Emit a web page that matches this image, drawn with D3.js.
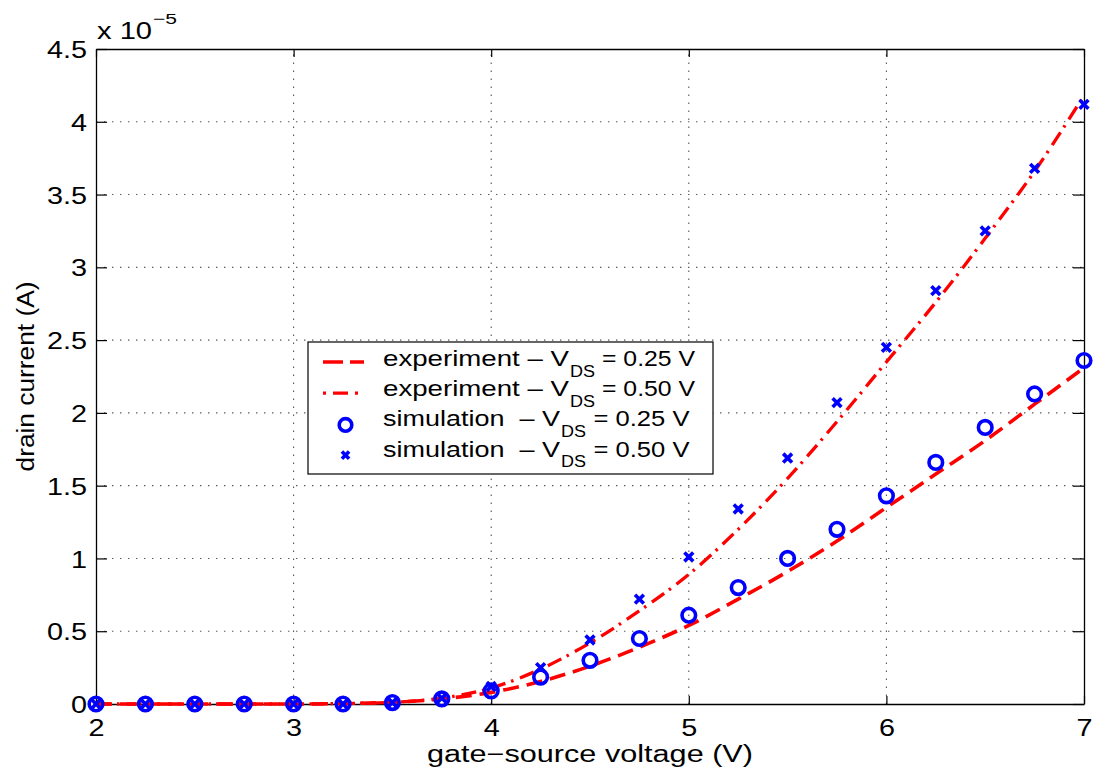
<!DOCTYPE html>
<html>
<head>
<meta charset="utf-8">
<script src="https://cdn.jsdelivr.net/npm/d3@7"></script>
<style>
  html, body { margin: 0; padding: 0; background: #fff; }
  svg { display: block; font-family: "Liberation Sans", Arial, Helvetica, sans-serif; }
</style>
</head>
<body>
<svg id="chart" width="1102" height="773"></svg>
<script>
// Gate-source voltage sweep (V)
const vgs = [2, 2.25, 2.5, 2.75, 3, 3.25, 3.5, 3.75, 4, 4.25, 4.5, 4.75, 5, 5.25, 5.5, 5.75, 6, 6.25, 6.5, 6.75, 7];

// Drain current, in units of 1e-5 A
const expVds025 = [0, 0, 0, 0, 0, 0.003, 0.012, 0.035, 0.08, 0.155, 0.26, 0.39, 0.54, 0.72, 0.91, 1.12, 1.35, 1.58, 1.81, 2.06, 2.31];
const expVds050 = [0, 0, 0, 0, 0, 0.003, 0.012, 0.04, 0.11, 0.24, 0.42, 0.64, 0.89, 1.2, 1.55, 1.94, 2.35, 2.76, 3.2, 3.66, 4.18];
const simVds025 = [0, 0, 0, 0, 0, 0, 0.01, 0.035, 0.09, 0.185, 0.3, 0.45, 0.61, 0.8, 1.0, 1.2, 1.43, 1.66, 1.9, 2.13, 2.36];
const simVds050 = [0, 0, 0, 0, 0, 0, 0.01, 0.04, 0.12, 0.25, 0.44, 0.72, 1.01, 1.34, 1.69, 2.07, 2.45, 2.84, 3.25, 3.68, 4.12];

// Axis ticks
const xTicks = [2, 3, 4, 5, 6, 7];
const yTicks = [0, 0.5, 1, 1.5, 2, 2.5, 3, 3.5, 4, 4.5];
const yTickLabels = ["0", "0.5", "1", "1.5", "2", "2.5", "3", "3.5", "4", "4.5"];

const legendRows = [
  { label: "experiment – V", value: "= 0.25 V", kind: "dash" },
  { label: "experiment – V", value: "= 0.50 V", kind: "dashdot" },
  { label: "simulation  – V", value: "= 0.25 V", kind: "circle" },
  { label: "simulation  – V", value: "= 0.50 V", kind: "cross" }
];

const svg = d3.select("#chart");
const pLeft = 96, pRight = 1084, pTop = 49, pBottom = 704;

const x = d3.scaleLinear().domain([2, 7]).range([pLeft, pRight]);
const y = d3.scaleLinear().domain([0, 4.5]).range([pBottom, pTop]);

const RED = "#ff0000", BLUE = "#0000ff";
const DASH = "16,8", DASHDOT = "15,6,2.5,7";

// Widen a text element horizontally (the typeface used here is broad)
function widen(sel, factor) {
  sel.each(function () {
    const w = this.getComputedTextLength();
    d3.select(this).attr("textLength", w * factor).attr("lengthAdjust", "spacingAndGlyphs");
  });
}
function fit(sel, len) {
  sel.attr("textLength", len).attr("lengthAdjust", "spacingAndGlyphs");
}

// Dotted grid
const grid = svg.append("g").attr("stroke", "#555").attr("stroke-width", 1.1)
  .attr("stroke-dasharray", "1.4,6.6");
grid.selectAll("line.gx").data(xTicks.slice(1, -1)).join("line")
  .attr("x1", d => x(d)).attr("x2", d => x(d)).attr("y1", pBottom).attr("y2", pTop);
grid.selectAll("line.gy").data(yTicks.slice(1, -1)).join("line")
  .attr("y1", d => y(d)).attr("y2", d => y(d)).attr("x1", pLeft).attr("x2", pRight);

// Axes with inward ticks on all four sides
const fontTick = 24;
const axB = svg.append("g").attr("transform", `translate(0,${pBottom})`)
  .call(d3.axisBottom(x).tickValues(xTicks).tickSizeInner(-8).tickSizeOuter(0).tickFormat(d3.format("d")));
const axT = svg.append("g").attr("transform", `translate(0,${pTop})`)
  .call(d3.axisTop(x).tickValues(xTicks).tickSizeInner(-8).tickSizeOuter(0).tickFormat(""));
const axL = svg.append("g").attr("transform", `translate(${pLeft},0)`)
  .call(d3.axisLeft(y).tickValues(yTicks).tickSizeInner(-11).tickSizeOuter(0)
    .tickFormat((d, i) => yTickLabels[i]));
const axR = svg.append("g").attr("transform", `translate(${pRight},0)`)
  .call(d3.axisRight(y).tickValues(yTicks).tickSizeInner(-11).tickSizeOuter(0).tickFormat(""));

[axB, axT, axL, axR].forEach(g => {
  g.select(".domain").attr("stroke", "#000").attr("stroke-width", 1.3);
  g.selectAll(".tick line").attr("stroke", "#000").attr("stroke-width", 1.2);
  g.selectAll("text").attr("font-size", fontTick).attr("fill", "#000")
    .attr("font-family", "Liberation Sans, Arial, sans-serif");
});
axB.selectAll("text").attr("y", 32).attr("dy", 0);
axL.selectAll("text").attr("x", -9).attr("dy", "0.36em");
widen(axB.selectAll("text"), 1.2);
widen(axL.selectAll("text"), 1.2);

// Exponent label
const expBase = svg.append("text").attr("x", 97).attr("y", 39).attr("font-size", 24).attr("fill", "#000").text("x 10");
fit(expBase, 55);
const expSup = svg.append("text").attr("x", 153).attr("y", 24).attr("font-size", 15).attr("fill", "#000").text("−5");
fit(expSup, 24);

// Axis titles
const xTitle = svg.append("text").attr("x", (pLeft + pRight) / 2).attr("y", 762).attr("text-anchor", "middle")
  .attr("font-size", 23).attr("fill", "#000").text("gate−source voltage (V)");
fit(xTitle, 326);
const yTitle = svg.append("text").attr("transform", `translate(34,${(pTop + pBottom) / 2}) rotate(-90)`)
  .attr("text-anchor", "middle").attr("font-size", 23).attr("fill", "#000").text("drain current (A)");
fit(yTitle, 190);

// Experimental curves
const line = d3.line().x(d => x(d[0])).y(d => y(d[1])).curve(d3.curveMonotoneX);
const plot = svg.append("g");
plot.append("path").datum(vgs.map((v, i) => [v, expVds025[i]]))
  .attr("d", line).attr("fill", "none").attr("stroke", RED).attr("stroke-width", 3.6)
  .attr("stroke-dasharray", DASH);
plot.append("path").datum(vgs.map((v, i) => [v, expVds050[i]]))
  .attr("d", line).attr("fill", "none").attr("stroke", RED).attr("stroke-width", 3.3)
  .attr("stroke-dasharray", DASHDOT);

// Simulation markers
const crossPath = (cx, cy, s) => `M${cx - s},${cy - s}L${cx + s},${cy + s}M${cx - s},${cy + s}L${cx + s},${cy - s}`;
plot.selectAll("circle.sim025").data(vgs.map((v, i) => [v, simVds025[i]])).join("circle")
  .attr("cx", d => x(d[0])).attr("cy", d => y(d[1])).attr("r", 6.8)
  .attr("fill", "none").attr("stroke", BLUE).attr("stroke-width", 3.6);
plot.selectAll("path.sim050").data(vgs.map((v, i) => [v, simVds050[i]])).join("path")
  .attr("d", d => crossPath(x(d[0]), y(d[1]), 4.4))
  .attr("fill", "none").attr("stroke", BLUE).attr("stroke-width", 3.6);

// Legend
const lg = svg.append("g");
lg.append("rect").attr("x", 308).attr("y", 342).attr("width", 405).attr("height", 132)
  .attr("fill", "#fff").attr("stroke", "#000").attr("stroke-width", 1.2);

function legendText(str, xPos, yPos, size, len) {
  const t = lg.append("text").attr("x", xPos).attr("y", yPos).attr("font-size", size)
    .attr("fill", "#000").style("white-space", "pre").text(str);
  fit(t, len);
  return t;
}

legendRows.forEach((r, i) => {
  const base = 366 + i * 30.2;
  const isExp = r.kind === "dash" || r.kind === "dashdot";
  if (r.kind === "dash") {
    lg.append("line").attr("x1", 323).attr("x2", 364).attr("y1", base - 4).attr("y2", base - 4)
      .attr("stroke", RED).attr("stroke-width", 3.6).attr("stroke-dasharray", "20,7");
  } else if (r.kind === "dashdot") {
    lg.append("line").attr("x1", 323).attr("x2", 367).attr("y1", base - 3).attr("y2", base - 3)
      .attr("stroke", RED).attr("stroke-width", 3.3).attr("stroke-dasharray", "3,7,15,7,3,9");
  } else if (r.kind === "circle") {
    lg.append("circle").attr("cx", 345.5).attr("cy", base - 1.5).attr("r", 6.3)
      .attr("fill", "none").attr("stroke", BLUE).attr("stroke-width", 3.6);
  } else {
    lg.append("path").attr("d", crossPath(345.5, base - 1.5, 3.6))
      .attr("stroke", BLUE).attr("stroke-width", 3.6).attr("fill", "none");
  }
  legendText(r.label, 383, base, 22, isExp ? 186 : 177);
  legendText("DS", isExp ? 570 : 561, base + 10.5, 16, 25);
  legendText(r.value, isExp ? 602 : 593.5, base, 22, isExp ? 93 : 96);
});
</script>
</body>
</html>
